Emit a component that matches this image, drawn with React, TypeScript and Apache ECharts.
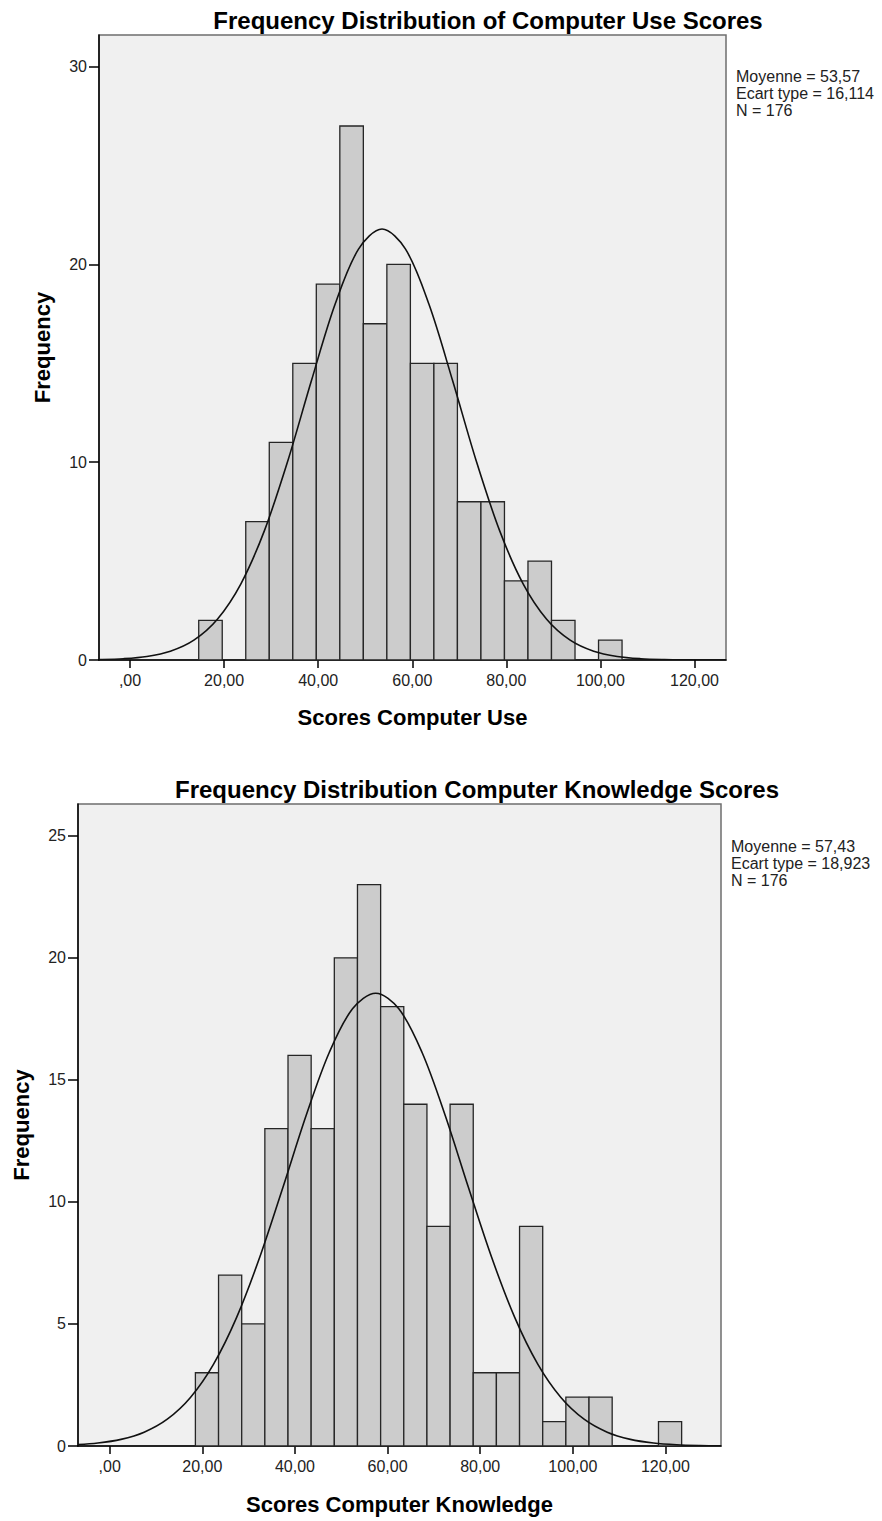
import React, { useEffect, useRef } from "react";
import * as echarts from "echarts";

// ---------- Data: Computer Use ----------
const useBinLower = [14.6, 19.6, 24.6, 29.6, 34.6, 39.6, 44.6, 49.6, 54.6, 59.6, 64.6, 69.6, 74.6, 79.6, 84.6, 89.6, 94.6, 99.6];
const useCounts = [2, 0, 7, 11, 15, 19, 27, 17, 20, 15, 15, 8, 8, 4, 5, 2, 0, 1];
const useCurveX = [-11.43, -6.43, -1.43, 3.57, 8.57, 13.57, 18.57, 23.57, 28.57, 33.57, 38.57, 43.57, 48.57, 53.57, 58.57, 63.57, 68.57, 73.57, 78.57, 83.57, 88.57, 93.57, 98.57, 103.57, 108.57, 113.57, 118.57, 123.57, 128.57];
const useCurveY = [0.0064, 0.0213, 0.0644, 0.1769, 0.4413, 1.001, 2.06, 3.851, 6.541, 10.09, 14.13, 17.97, 20.77, 21.79, 20.77, 17.97, 14.13, 10.09, 6.541, 3.851, 2.06, 1.001, 0.4413, 0.1769, 0.0644, 0.0213, 0.0064, 0.0017, 0.0004];
const useStats = ["Moyenne = 53,57", "Ecart type = 16,114", "N = 176"];

// ---------- Data: Computer Knowledge ----------
const knowBinLower = [18.5, 23.5, 28.5, 33.5, 38.5, 43.5, 48.5, 53.5, 58.5, 63.5, 68.5, 73.5, 78.5, 83.5, 88.5, 93.5, 98.5, 103.5, 108.5, 113.5, 118.5];
const knowCounts = [3, 7, 5, 13, 16, 13, 20, 23, 18, 14, 9, 14, 3, 3, 9, 1, 2, 2, 0, 0, 1];
const knowCurveX = [-7.57, -2.57, 2.43, 7.43, 12.43, 17.43, 22.43, 27.43, 32.43, 37.43, 42.43, 47.43, 52.43, 57.43, 62.43, 67.43, 72.43, 77.43, 82.43, 87.43, 92.43, 97.43, 102.43, 107.43, 112.43, 117.43, 122.43, 127.43, 132.43];
const knowCurveY = [0.0508, 0.1216, 0.2716, 0.5652, 1.097, 1.987, 3.354, 5.279, 7.75, 10.61, 13.55, 16.13, 17.91, 18.55, 17.91, 16.13, 13.55, 10.61, 7.75, 5.279, 3.354, 1.987, 1.097, 0.5652, 0.2716, 0.1216, 0.0508, 0.0198, 0.0072];
const knowStats = ["Moyenne = 57,43", "Ecart type = 18,923", "N = 176"];

const binWidth = 5;
const xTickValues = [0, 20, 40, 60, 80, 100, 120];
const xTickLabels = [",00", "20,00", "40,00", "60,00", "80,00", "100,00", "120,00"];
const useYTicks = [0, 10, 20, 30];
const knowYTicks = [0, 5, 10, 15, 20, 25];

const FONT = '"Liberation Sans", Arial, sans-serif';

function histData(lower: number[], counts: number[]) {
  return lower.map((l, i) => [l, l + binWidth, counts[i]]);
}

function curveData(xs: number[], ys: number[]) {
  return xs.map((x, i) => [x, ys[i]]);
}

const renderBar = (params: any, api: any) => {
  const x0 = api.value(0);
  const x1 = api.value(1);
  const c = api.value(2);
  if (!c) return null;
  const p0 = api.coord([x0, c]);
  const p1 = api.coord([x1, 0]);
  return {
    type: "rect",
    shape: { x: p0[0], y: p0[1], width: p1[0] - p0[0], height: p1[1] - p0[1] },
    style: { fill: "#cccccc", stroke: "#262626", lineWidth: 1.3 },
  };
};

function makeCurveRenderer(xs: number[], ys: number[]) {
  return (params: any, api: any) => {
    if (params.dataIndex !== 0) return null;
    const pts = xs.map((x, i) => api.coord([x, ys[i]]));
    const cs = params.coordSys;
    return {
      type: "group",
      children: [
        {
          type: "polyline",
          shape: { points: pts, smooth: 0.33 },
          style: { stroke: "#111", lineWidth: 1.6, fill: null },
        },
      ],
      clipPath: { type: "rect", shape: { x: cs.x, y: cs.y - 2, width: cs.width, height: cs.height + 2 } },
    };
  };
}

function xAxisCfg(gridIndex: number, min: number, max: number, name: string, nameGap: number) {
  return {
    type: "value",
    gridIndex,
    min,
    max,
    name,
    nameLocation: "middle",
    nameGap,
    nameTextStyle: { fontFamily: FONT, fontWeight: "bold", fontSize: 22, color: "#000" },
    axisLine: { show: true, onZero: false, lineStyle: { color: "#000", width: 1.5 } },
    axisTick: { show: true, length: 8, customValues: xTickValues, lineStyle: { color: "#000", width: 1.5 } },
    axisLabel: {
      customValues: xTickValues,
      fontFamily: FONT,
      fontSize: 16,
      color: "#222",
      margin: 12,
      formatter: (v: number) => {
        const i = xTickValues.indexOf(v);
        return i >= 0 ? xTickLabels[i] : "";
      },
    },
    splitLine: { show: false },
  };
}

function yAxisCfg(gridIndex: number, max: number, ticks: number[]) {
  return {
    type: "value",
    gridIndex,
    min: 0,
    max,
    name: "Frequency",
    nameLocation: "middle",
    nameGap: 46,
    nameRotate: 90,
    nameTextStyle: { fontFamily: FONT, fontWeight: "bold", fontSize: 22, color: "#000" },
    axisLine: { show: true, onZero: false, lineStyle: { color: "#000", width: 1.5 } },
    axisTick: { show: true, length: 10, customValues: ticks, lineStyle: { color: "#000", width: 1.5 } },
    axisLabel: { customValues: ticks, fontFamily: FONT, fontSize: 16, color: "#222", margin: 12 },
    splitLine: { show: false },
  };
}

function statsText(lines: string[], x: number, y: number) {
  return {
    type: "text",
    x,
    y,
    style: {
      text: lines.join("\n"),
      font: `16px ${FONT}`,
      fill: "#222",
      lineHeight: 17,
      align: "left",
      textAlign: "left",
      verticalAlign: "top",
      textVerticalAlign: "top",
    },
  };
}

function titleText(text: string, x: number, y: number) {
  return {
    type: "text",
    x,
    y,
    style: {
      text,
      font: `bold 24px ${FONT}`,
      fill: "#000",
      align: "center",
      textAlign: "center",
      verticalAlign: "middle",
      textVerticalAlign: "middle",
    },
  };
}

export default function App() {
  const ref = useRef<HTMLDivElement>(null);
  useEffect(() => {
    if (!ref.current) return;
    const chart = echarts.init(ref.current, undefined, { renderer: "svg" });
    chart.setOption({
      animation: false,
      backgroundColor: "#ffffff",
      grid: [
        { left: 99, top: 35, width: 627, height: 625, show: true, backgroundColor: "#f0f0f0", borderColor: "#6e6e6e", borderWidth: 1.5 },
        { left: 78, top: 804, width: 643, height: 642, show: true, backgroundColor: "#f0f0f0", borderColor: "#6e6e6e", borderWidth: 1.5 },
      ],
      xAxis: [
        xAxisCfg(0, -6.6, 126.7, "Scores Computer Use", 46),
        xAxisCfg(1, -6.85, 132.0, "Scores Computer Knowledge", 47),
      ],
      yAxis: [yAxisCfg(0, 31.6, useYTicks), yAxisCfg(1, 26.3, knowYTicks)],
      graphic: [
        titleText("Frequency Distribution of Computer Use Scores", 488, 20),
        titleText("Frequency Distribution Computer Knowledge Scores", 477, 789),
        statsText(useStats, 736, 68),
        statsText(knowStats, 731, 838),
      ],
      series: [
        {
          type: "custom",
          xAxisIndex: 0,
          yAxisIndex: 0,
          renderItem: renderBar,
          encode: { x: [0, 1], y: 2 },
          data: histData(useBinLower, useCounts),
          z: 2,
        },
        {
          type: "custom",
          xAxisIndex: 0,
          yAxisIndex: 0,
          renderItem: makeCurveRenderer(useCurveX, useCurveY),
          encode: { x: 0, y: 1 },
          data: curveData(useCurveX, useCurveY),
          z: 3,
        },
        {
          type: "custom",
          xAxisIndex: 1,
          yAxisIndex: 1,
          renderItem: renderBar,
          encode: { x: [0, 1], y: 2 },
          data: histData(knowBinLower, knowCounts),
          z: 2,
        },
        {
          type: "custom",
          xAxisIndex: 1,
          yAxisIndex: 1,
          renderItem: makeCurveRenderer(knowCurveX, knowCurveY),
          encode: { x: 0, y: 1 },
          data: curveData(knowCurveX, knowCurveY),
          z: 3,
        },
      ],
    });
    return () => chart.dispose();
  }, []);
  return <div ref={ref} style={{ position: "absolute", left: 0, top: 0, width: 882, height: 1521 }} />;
}
